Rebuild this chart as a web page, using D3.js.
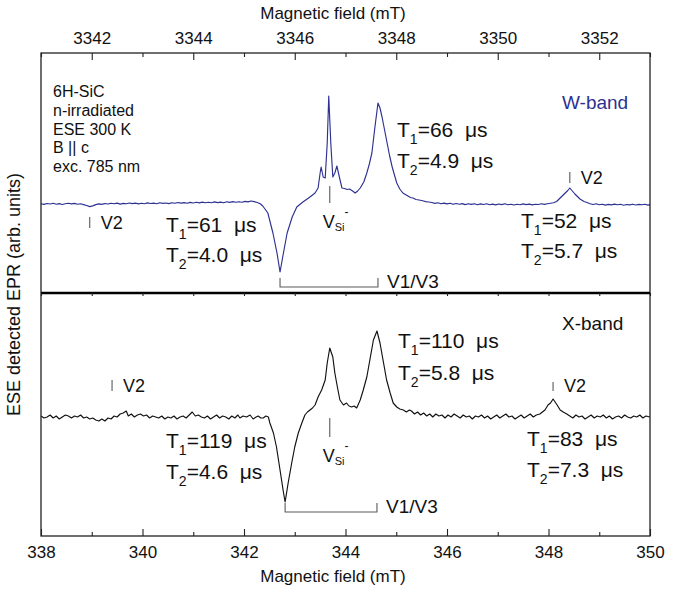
<!DOCTYPE html>
<html>
<head>
<meta charset="utf-8">
<script src="https://cdn.jsdelivr.net/npm/d3@7"></script>
<style>
  html, body { margin: 0; padding: 0; background: #fff; }
  svg { display: block; font-family: "Liberation Sans", Arial, sans-serif; }
  text { white-space: pre; }
</style>
</head>
<body>
<svg id="chart" width="689" height="589"></svg>
<script>
// ESE-detected EPR spectra of n-irradiated 6H-SiC, W-band (top) and X-band (bottom)

// W-band spectrum: [field (mT), signal (arb. units)]
const wBand = [
  [3341.00,0.3],[3341.06,-0.4],[3341.12,0.5],[3341.18,0.0],[3341.24,0.7],[3341.30,-0.2],[3341.36,0.4],[3341.42,-0.5],
  [3341.48,0.3],[3341.54,0.8],[3341.60,0.1],[3341.66,0.6],[3341.72,-0.3],[3341.78,0.2],[3341.84,-0.6],[3341.90,-1.5],
  [3341.96,-2.6],[3342.02,-1.9],[3342.08,-0.6],[3342.14,0.1],[3342.20,-0.4],[3342.26,0.5],[3342.32,0.0],[3342.38,0.8],
  [3342.44,0.2],[3342.50,0.9],[3342.56,-0.1],[3342.62,0.6],[3342.68,0.2],[3342.74,1.0],[3342.80,0.4],[3342.86,0.9],
  [3342.92,0.1],[3342.98,0.7],[3343.04,0.3],[3343.10,1.1],[3343.16,0.5],[3343.22,0.9],[3343.28,0.2],[3343.34,1.2],
  [3343.40,0.6],[3343.46,1.0],[3343.52,0.4],[3343.58,1.3],[3343.64,0.7],[3343.70,1.5],[3343.76,0.9],[3343.82,1.4],
  [3343.88,0.8],[3343.94,1.6],[3344.00,1.0],[3344.06,1.7],[3344.12,1.1],[3344.18,1.9],[3344.24,1.2],[3344.30,1.8],
  [3344.36,1.3],[3344.42,2.1],[3344.48,1.4],[3344.54,1.9],[3344.60,1.2],[3344.66,2.2],[3344.72,1.6],[3344.78,2.4],
  [3344.84,1.7],[3344.90,2.3],[3344.96,1.8],[3345.02,2.6],[3345.08,2.1],[3345.14,3.0],[3345.20,2.4],[3345.26,1.5],
  [3345.32,0.2],[3345.37,-2],[3345.47,-9],[3345.57,-29],[3345.65,-49],[3345.71,-68],[3345.77,-51],[3345.85,-29],
  [3345.95,-13],[3346.04,-3],[3346.16,2],[3346.30,7],[3346.40,11],[3346.46,16],[3346.50,31],[3346.52,37],
  [3346.56,27],[3346.60,26],[3346.64,61],[3346.67,108],[3346.71,61],[3346.75,27],[3346.79,31],[3346.83,38],
  [3346.87,29],[3346.93,16],[3346.98,15.5],[3347.03,14.5],[3347.08,15],[3347.14,13],[3347.19,11],[3347.24,13],
  [3347.29,16],[3347.36,22],[3347.42,31],[3347.47,40],[3347.52,51],[3347.58,77],[3347.64,101],[3347.68,96],
  [3347.72,87],[3347.77,74],[3347.82,61],[3347.87,48],[3347.92,37],[3347.97,28],[3348.01,21],[3348.07,15],
  [3348.13,11],[3348.18,9.5],[3348.23,8],[3348.28,6.5],[3348.33,6],[3348.39,4.5],[3348.45,4],[3348.52,3.2],
  [3348.58,2.4],[3348.64,2.0],[3348.70,1.5],[3348.76,0.6],[3348.82,1.2],[3348.88,0.2],[3348.94,0.9],[3349.00,0.1],
  [3349.06,0.8],[3349.12,-0.3],[3349.18,0.5],[3349.24,-0.2],[3349.30,0.4],[3349.36,-0.6],[3349.42,0.3],[3349.48,-0.4],
  [3349.54,0.2],[3349.60,-0.8],[3349.66,0.1],[3349.72,-0.5],[3349.78,0.3],[3349.84,-0.7],[3349.90,-0.1],[3349.96,-0.9],
  [3350.02,0.0],[3350.08,-0.6],[3350.14,0.2],[3350.20,-0.8],[3350.26,-0.2],[3350.32,-1.0],[3350.38,-0.3],[3350.44,-0.7],
  [3350.50,0.1],[3350.56,-0.6],[3350.62,-0.1],[3350.68,-0.9],[3350.74,-0.2],[3350.80,-0.5],[3350.86,0.2],[3350.92,-0.4],
  [3350.98,0.3],[3351.04,0.8],[3351.10,1.2],[3351.16,2.5],[3351.23,6],[3351.28,8.5],[3351.33,11],[3351.38,13.5],
  [3351.42,16],[3351.47,13],[3351.52,10],[3351.57,7.5],[3351.62,5],[3351.70,2.5],[3351.76,1.5],[3351.82,0.3],
  [3351.88,-0.5],[3351.94,0.2],[3352.00,-0.8],[3352.06,-0.2],[3352.12,-1.1],[3352.18,-0.4],[3352.24,-0.9],[3352.30,-0.1],
  [3352.36,-0.8],[3352.42,-0.3],[3352.48,-1.2],[3352.54,-0.5],[3352.60,-0.9],[3352.66,-0.2],[3352.72,-1.0],[3352.78,-0.4],
  [3352.84,-0.8],[3352.90,-0.3],[3352.96,-1.1],[3353.00,-0.6]
];

// X-band spectrum: [field (mT), signal (arb. units)]
const xBand = [
  [338.00,1],[338.06,-1],[338.12,0],[338.18,2],[338.24,-1],[338.30,1],[338.36,-2],[338.42,0],
  [338.48,2],[338.54,1],[338.60,-1],[338.66,1],[338.72,0],[338.78,2],[338.84,-1],[338.90,0],
  [338.96,-2],[339.02,-1],[339.08,-3],[339.14,-4],[339.20,-2],[339.26,-4],[339.32,-1],[339.38,-2],
  [339.44,1],[339.50,0],[339.56,3],[339.62,4],[339.68,6],[339.72,1],[339.78,3],[339.84,0],
  [339.90,2],[339.96,3],[340.02,1],[340.08,2],[340.14,-1],[340.20,1],[340.26,0],[340.32,-1],
  [340.38,1],[340.44,-2],[340.50,0],[340.56,-1],[340.62,1],[340.68,-2],[340.74,0],[340.80,1],
  [340.86,-1],[340.92,2],[340.98,5],[341.04,1],[341.10,2],[341.16,0],[341.22,-1],[341.28,1],
  [341.34,-2],[341.40,0],[341.46,2],[341.52,-1],[341.58,1],[341.64,0],[341.70,-2],[341.76,1],
  [341.82,-1],[341.88,2],[341.92,-1],[341.98,1],[342.05,0],[342.12,2],[342.18,-2],[342.24,0],
  [342.28,1],[342.33,-1],[342.38,-1],[342.43,1],[342.48,0],[342.51,-6],[342.58,-16],[342.64,-30],
  [342.71,-53],[342.77,-73],[342.81,-85],[342.87,-66],[342.94,-46],[343.00,-30],[343.07,-16],[343.14,-6],
  [343.20,2],[343.25,5],[343.30,7],[343.35,9],[343.40,12],[343.46,20],[343.53,27],[343.60,37],
  [343.64,54],[343.69,69],[343.75,60],[343.79,44],[343.84,30],[343.89,17],[343.96,12],[344.02,14],
  [344.07,11],[344.12,10],[344.17,11],[344.22,9],[344.29,17],[344.35,27],[344.42,40],[344.48,57],
  [344.55,77],[344.62,86],[344.68,74],[344.75,54],[344.81,37],[344.88,24],[344.94,14],[345.01,10],
  [345.07,8],[345.14,7],[345.20,5],[345.26,7],[345.30,6],[345.36,3],[345.42,5],[345.48,2],
  [345.54,4],[345.60,1],[345.66,3],[345.72,0],[345.78,3],[345.84,1],[345.90,2],[345.96,-1],
  [346.02,2],[346.08,0],[346.14,3],[346.20,1],[346.26,-1],[346.32,2],[346.38,0],[346.44,1],
  [346.50,-2],[346.56,1],[346.62,0],[346.68,2],[346.74,-1],[346.80,1],[346.86,-2],[346.92,0],
  [346.98,2],[347.04,-1],[347.10,1],[347.16,3],[347.22,0],[347.28,1],[347.34,-2],[347.40,0],
  [347.46,2],[347.52,-1],[347.58,1],[347.64,3],[347.70,0],[347.76,2],[347.83,3],[347.88,5],
  [347.93,7],[347.99,12],[348.04,14],[348.09,18],[348.13,15],[348.17,12],[348.23,7],[348.29,5],
  [348.36,3],[348.42,1],[348.48,-1],[348.54,2],[348.60,0],[348.66,1],[348.72,-2],[348.78,0],
  [348.84,2],[348.90,-1],[348.96,1],[349.02,0],[349.08,2],[349.14,-1],[349.20,1],[349.26,-2],
  [349.32,0],[349.38,1],[349.44,-1],[349.50,2],[349.56,0],[349.62,-1],[349.68,1],[349.74,0],
  [349.80,2],[349.86,-1],[349.92,1],[350.00,0]
];

// Axis ticks
const topMajor = [3342, 3344, 3346, 3348, 3350, 3352];
const topMinor = [3341, 3343, 3345, 3347, 3349, 3351, 3353];
const botMajor = [338, 340, 342, 344, 346, 348, 350];
const botMinor = [339, 341, 343, 345, 347, 349];

// Sample description
const sampleInfo = ["6H-SiC", "n-irradiated", "ESE 300 K", "B || c", "exc. 785 nm"];

// Relaxation times [V2 low-field, V1/V3, V2 high-field]
const wT1 = [61, 66, 52];
const wT2 = [4.0, 4.9, 5.7];
const xT1 = [119, 110, 83];
const xT2 = [4.6, 5.8, 7.3];

// Line positions (mT)
const wV2 = [3341.96, 3351.42];
const xV2 = [339.40, 348.09];
const wVsi = 3346.69;
const xVsi = 343.69;
const wV13 = [3345.71, 3347.64];
const xV13 = [342.81, 344.62];

const L = 41, R = 650, T = 53, B = 536, MID = 293;
const blue = "#2d3191";
const gray = "#5a5a5a";

const svg = d3.select("#chart");

const xTop = d3.scaleLinear().domain([3341, 3353]).range([L, R]);
const xBot = d3.scaleLinear().domain([338, 350]).range([L, R]);
const yW = d3.scaleLinear().domain([-89, 151]).range([MID, T]);
const yX = d3.scaleLinear().domain([-119, 124]).range([B, MID]);

// Spectra
const lineW = d3.line().x(d => xTop(d[0])).y(d => yW(d[1]));
const lineX = d3.line().x(d => xBot(d[0])).y(d => yX(d[1]));

svg.append("path").datum(wBand).attr("d", lineW)
  .attr("fill", "none").attr("stroke", blue).attr("stroke-width", 1.15).attr("stroke-linejoin", "round");
svg.append("path").datum(xBand).attr("d", lineX)
  .attr("fill", "none").attr("stroke", "#111").attr("stroke-width", 1.15).attr("stroke-linejoin", "round");

// Frame and panel divider
svg.append("rect").attr("x", L).attr("y", T).attr("width", R - L).attr("height", B - T)
  .attr("fill", "none").attr("stroke", "#222").attr("stroke-width", 1.3);
svg.append("line").attr("x1", L).attr("x2", R).attr("y1", MID).attr("y2", MID)
  .attr("stroke", "#000").attr("stroke-width", 2.6);

// Axes
function styleAxis(g) {
  g.select(".domain").remove();
  g.selectAll(".tick line").attr("stroke", "#222").attr("stroke-width", 1.1);
  g.selectAll(".tick text").attr("fill", "#111").attr("font-size", 17)
    .attr("font-family", "'Liberation Sans', Arial, sans-serif");
}
svg.append("g").attr("transform", `translate(0,${T})`)
  .call(d3.axisTop(xTop).tickValues(topMajor).tickFormat(d3.format("d")).tickSizeInner(-7).tickSizeOuter(0).tickPadding(9))
  .call(styleAxis);
svg.append("g").attr("transform", `translate(0,${T})`)
  .call(d3.axisTop(xTop).tickValues(topMinor).tickFormat("").tickSizeInner(-4).tickSizeOuter(0))
  .call(styleAxis);
svg.append("g").attr("transform", `translate(0,${B})`)
  .call(d3.axisBottom(xBot).tickValues(botMajor).tickFormat(d3.format("d")).tickSizeInner(-7).tickSizeOuter(0).tickPadding(10))
  .call(styleAxis);
svg.append("g").attr("transform", `translate(0,${B})`)
  .call(d3.axisBottom(xBot).tickValues(botMinor).tickFormat("").tickSizeInner(-4).tickSizeOuter(0))
  .call(styleAxis);
svg.append("g").attr("transform", `translate(0,${MID})`)
  .call(d3.axisBottom(xBot).tickValues(botMajor.concat(botMinor)).tickFormat("").tickSizeInner(3).tickSizeOuter(0))
  .call(styleAxis);

// Axis titles
svg.append("text").attr("x", 333).attr("y", 19).attr("text-anchor", "middle")
  .attr("font-size", 17).attr("fill", "#111").text("Magnetic field (mT)");
svg.append("text").attr("x", 333).attr("y", 582).attr("text-anchor", "middle")
  .attr("font-size", 17).attr("fill", "#111").text("Magnetic field (mT)");
svg.append("text").attr("transform", `translate(20,${(T + B) / 2}) rotate(-90)`).attr("text-anchor", "middle")
  .attr("font-size", 18).attr("fill", "#111").text("ESE detected EPR (arb. units)");

// Sample description
svg.append("g").selectAll("text").data(sampleInfo).join("text")
  .attr("x", 53).attr("y", (d, i) => 97 + i * 18.8)
  .attr("font-size", 16).attr("fill", "#111").text(d => d);

// Band labels
svg.append("text").attr("x", 562).attr("y", 109).attr("font-size", 19).attr("fill", blue).text("W-band");
svg.append("text").attr("x", 562).attr("y", 330).attr("font-size", 19).attr("fill", "#111").text("X-band");

// Relaxation-time labels
function relax(x, y, idx, val, digits) {
  const t = svg.append("text").attr("x", x).attr("y", y).attr("font-size", 21).attr("fill", "#111");
  t.append("tspan").text("T");
  t.append("tspan").attr("font-size", 14).attr("dy", 7).text(idx);
  t.append("tspan").attr("dy", -7).text("=" + val.toFixed(digits) + "  μs");
}
relax(166, 232, "1", wT1[0], 0); relax(166, 262, "2", wT2[0], 1);
relax(397, 137, "1", wT1[1], 0); relax(397, 168, "2", wT2[1], 1);
relax(521, 228, "1", wT1[2], 0); relax(521, 258, "2", wT2[2], 1);
relax(166, 448, "1", xT1[0], 0); relax(166, 479, "2", xT2[0], 1);
relax(398, 348, "1", xT1[1], 0); relax(398, 380, "2", xT2[1], 1);
relax(527, 446, "1", xT1[2], 0); relax(527, 477, "2", xT2[2], 1);

// V2 markers
function v2(x, yTop, yBot) {
  svg.append("line").attr("x1", x).attr("x2", x).attr("y1", yTop).attr("y2", yBot)
    .attr("stroke", gray).attr("stroke-width", 1.1);
  svg.append("text").attr("x", x + 11).attr("y", yBot + 1).attr("font-size", 18).attr("fill", "#111").text("V2");
}
v2(xTop(wV2[0]), 217, 228);
v2(xTop(wV2[1]), 172, 183);
v2(xBot(xV2[0]), 380, 391);
v2(xBot(xV2[1]), 382, 391);

// Silicon vacancy markers
function vsi(x, yTop, yBot, yText) {
  svg.append("line").attr("x1", x).attr("x2", x).attr("y1", yTop).attr("y2", yBot)
    .attr("stroke", gray).attr("stroke-width", 1.1);
  const t = svg.append("text").attr("x", x - 7).attr("y", yText).attr("font-size", 18).attr("fill", "#111");
  t.append("tspan").text("V");
  t.append("tspan").attr("font-size", 11).attr("dy", 3).text("Si");
  t.append("tspan").attr("font-size", 12).attr("dy", -15).text("-");
}
vsi(xTop(wVsi), 186, 203, 228);
vsi(xBot(xVsi), 418, 437, 462);

// V1/V3 brackets
function bracket(x1, x2, y) {
  svg.append("path").attr("d", `M${x1},${y - 9}V${y}H${x2}V${y - 9}`)
    .attr("fill", "none").attr("stroke", gray).attr("stroke-width", 1.1);
  svg.append("text").attr("x", x2 + 9).attr("y", y + 1).attr("font-size", 19).attr("fill", "#111").text("V1/V3");
}
bracket(xTop(wV13[0]), xTop(wV13[1]), 287);
bracket(xBot(xV13[0]), xBot(xV13[1]), 512);
</script>
</body>
</html>
